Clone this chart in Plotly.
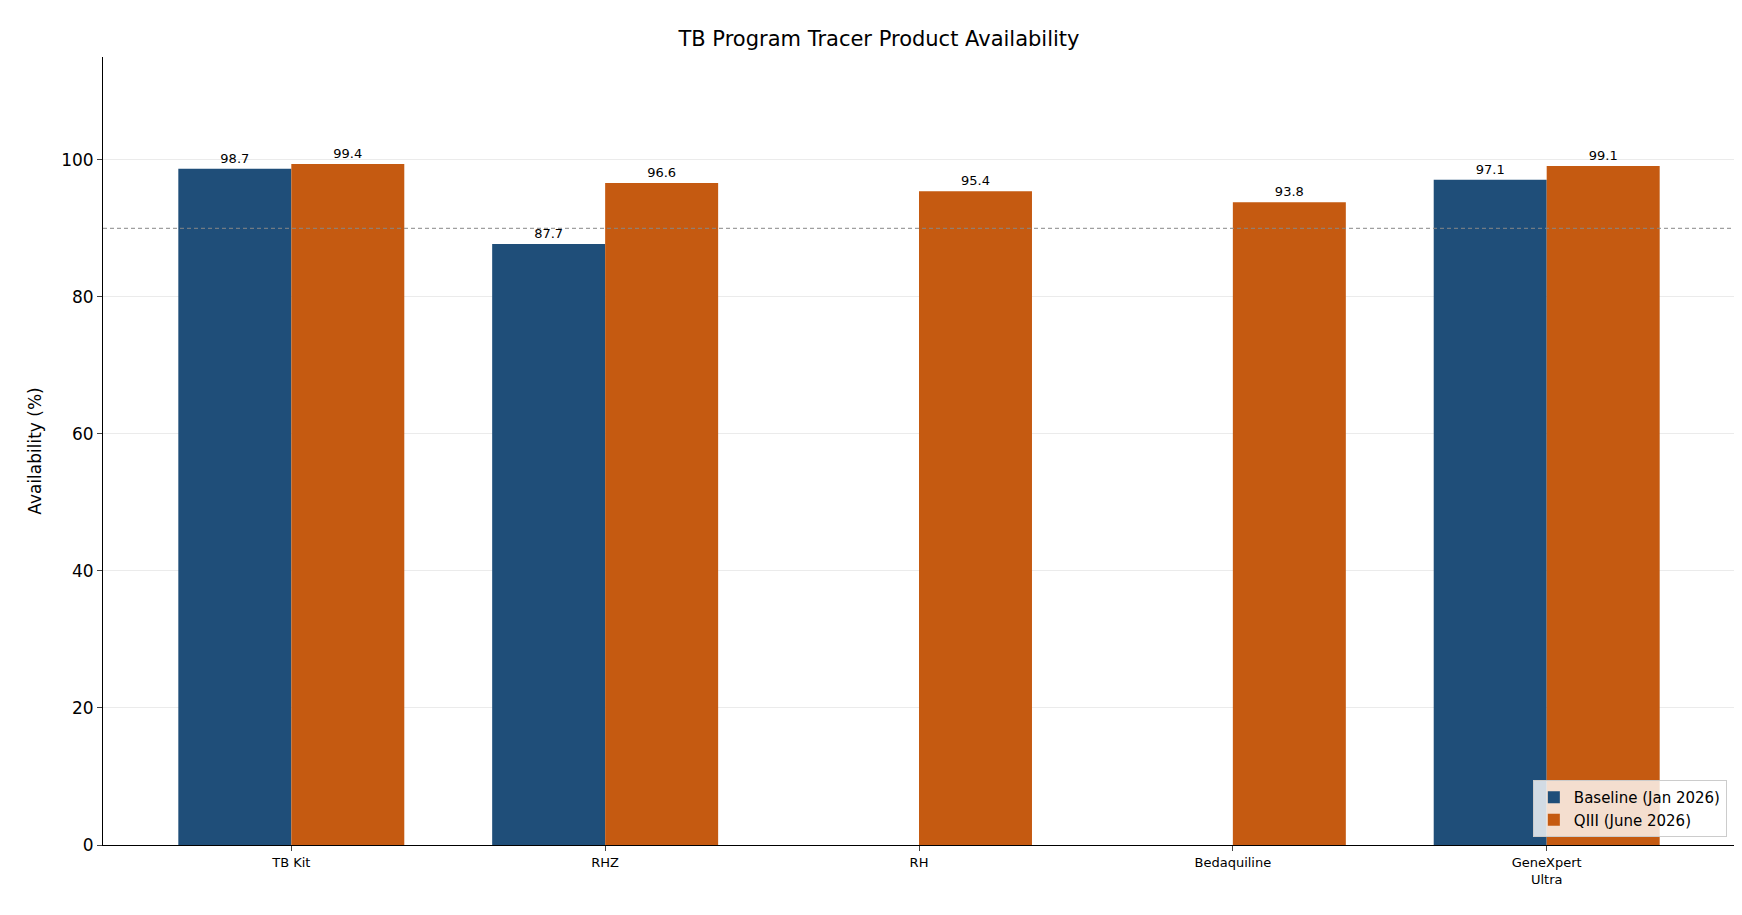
import plotly.graph_objects as go

categories = ["TB Kit", "RHZ", "RH", "Bedaquiline", "GeneXpert<br>Ultra"]
baseline = [98.7, 87.7, None, None, 97.1]
q3 = [99.4, 96.6, 95.4, 93.8, 99.1]
target = 90

def lbl(v):
    return [f"{x:.1f}" if x is not None else "" for x in v]

fig = go.Figure()
fig.add_bar(x=categories, y=baseline, name="Baseline (Jan 2026)", marker_color="#1f4e79", marker_line_width=0,
            text=lbl(baseline), textposition="outside", textfont=dict(size=13, color="black"), cliponaxis=False)
fig.add_bar(x=categories, y=q3, name="QIII (June 2026)", marker_color="#c55a11", marker_line_width=0,
            text=lbl(q3), textposition="outside", textfont=dict(size=13, color="black"), cliponaxis=False)
fig.add_hline(y=target, line=dict(color="#888888", width=1, dash="4px,3px"))
fig.update_layout(
    width=1742, height=915, plot_bgcolor="white", paper_bgcolor="white",
    font=dict(family="DejaVu Sans", color="black"),
    title=dict(text="TB Program Tracer Product Availability", x=0.5, xanchor="center", y=0.975, font=dict(size=21)),
    barmode="group", bargap=0.28, bargroupgap=0,
    margin=dict(l=95, r=15, t=49, b=78),
    legend=dict(x=0.995, y=0.01, xanchor="right", yanchor="bottom", bordercolor="#cccccc", borderwidth=1,
                font=dict(size=15), bgcolor="rgba(255,255,255,0.8)"),
)
fig.update_xaxes(range=[-0.6, 4.6], showline=True, linecolor="black", ticks="outside",
                 tickfont=dict(size=13), showgrid=False)
fig.update_yaxes(range=[0, 115], showline=True, linecolor="black", ticks="outside",
                 tickvals=[0, 20, 40, 60, 80, 100], tickfont=dict(size=17), showgrid=True,
                 gridcolor="#ebebeb", zeroline=False,
                 title=dict(text="Availability (%)", font=dict(size=17)))
fig.write_html("out.html")
